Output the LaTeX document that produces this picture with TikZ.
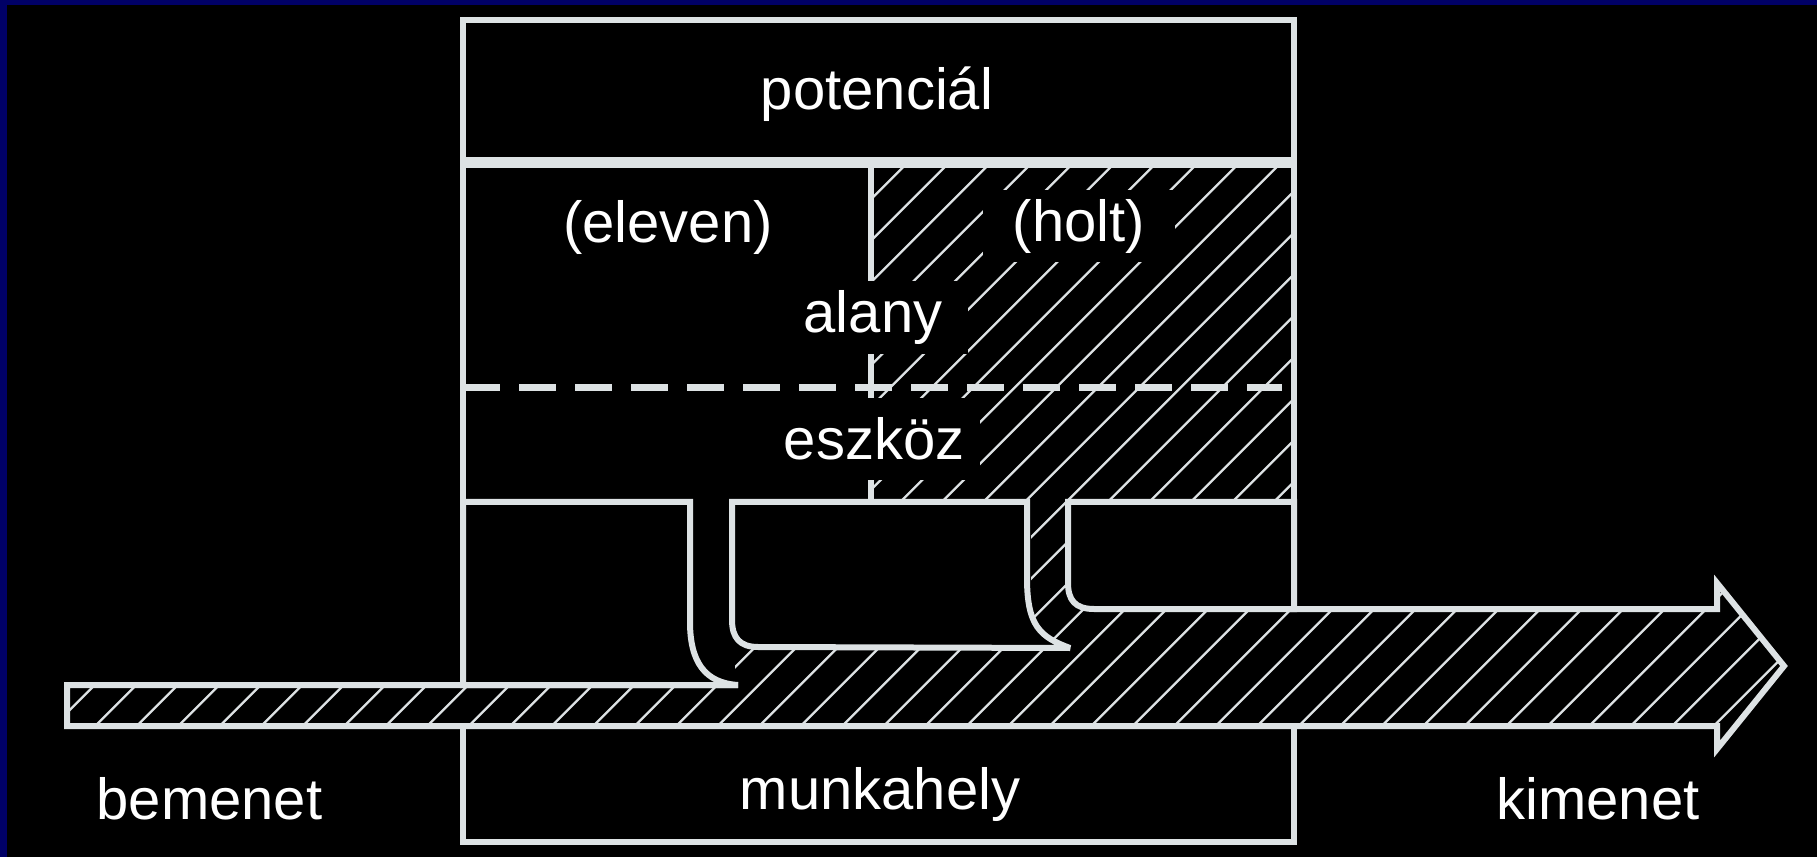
\documentclass[tikz,border=0pt]{standalone}
\usepackage{fontspec}
\setmainfont{Liberation Sans}
\definecolor{navyedge}{RGB}{0,0,102}
\definecolor{ink}{RGB}{221,226,228}
\tikzset{
  outline/.style={draw=ink, line width=2.4pt, line join=miter},
  block/.style={draw=ink, line width=2.4pt, line join=miter, miter limit=1.6, fill=black},
  hatchline/.style={draw=ink, line width=0.9pt},
  lbl/.style={text=white, font=\fontsize{23.2pt}{28pt}\selectfont, inner sep=0pt},
  lblbox/.style={lbl, fill=black},
}
\begin{document}
\begin{tikzpicture}[x=0.4pt,y=-0.4pt]
\useasboundingbox (0,0) rectangle (1817,857);
\fill[navyedge] (0,0) rectangle (1817,857);
\fill[black] (7,5) rectangle (1817,857);

% hatched flow region
\begin{scope}
\path[clip] (67,685) -- (735,685) -- (735,646) -- (1031,646) -- (1031,502)
  -- (871,502) -- (871,164) -- (1294,164) -- (1294,609) -- (1717,609)
  -- (1717,583) -- (1784,666) -- (1717,749) -- (1717,726) -- (67,726) -- cycle;
\foreach \k in {-46,...,16} {
  \pgfmathsetmacro\hs{1983.3+41.5*\k}
  \draw[hatchline] (\hs,0) -- ({\hs-1000},1000);
}
\end{scope}

% boxes
\draw[outline] (463,20) rectangle (1294,160);
\draw[outline] (463,502) -- (463,165) -- (1294,165) -- (1294,502);
\draw[outline] (871,165) -- (871,502);
\draw[draw=ink, line width=2.8pt, dash pattern=on 14.7pt off 7.7pt] (463,388) -- (1282,388);

% blocks
\draw[block] (463,502) -- (690,502) -- (690,622) .. controls (690,662) and (705,683) .. (738,685) -- (463,685) -- cycle;
\draw[block] (732,502) -- (1027,502) -- (1027,578) .. controls (1027,626) and (1040,637) .. (1070,648) -- (758,647) .. controls (740,647) and (732,638) .. (732,620) -- cycle;
\draw[block] (1068,502) -- (1294,502) -- (1294,609) -- (1094,609) .. controls (1075,609) and (1068,600) .. (1068,583) -- cycle;

% arrow outline
\draw[outline] (738,685) -- (67,685) -- (67,726) -- (1717,726) -- (1717,749) -- (1784,666) -- (1717,583) -- (1717,609) -- (1290,609);
\draw[outline] (463,726) rectangle (1294,842);

% labels
\node[lbl, anchor=base] (pot) at (877,110) {potenciál};
\node[lbl, anchor=base] (elv) at (668,243) {(eleven)};
\node[lblbox, minimum width=76.8pt, minimum height=28.8pt] (holt) at (1079,226) {(holt)};
\node[lblbox, minimum width=76pt, minimum height=29.2pt] (alany) at (873,318) {alany};
\node[lblbox, minimum width=84.8pt, minimum height=32.8pt] (eszkoz) at (874,439) {eszköz};
\node[lbl, anchor=base] (munka) at (880,809) {munkahely};
\node[lbl, anchor=base] (be) at (209.5,819) {bemenet};
\node[lbl, anchor=base] (ki) at (1598,819) {kimenet};
\end{tikzpicture}
\end{document}
